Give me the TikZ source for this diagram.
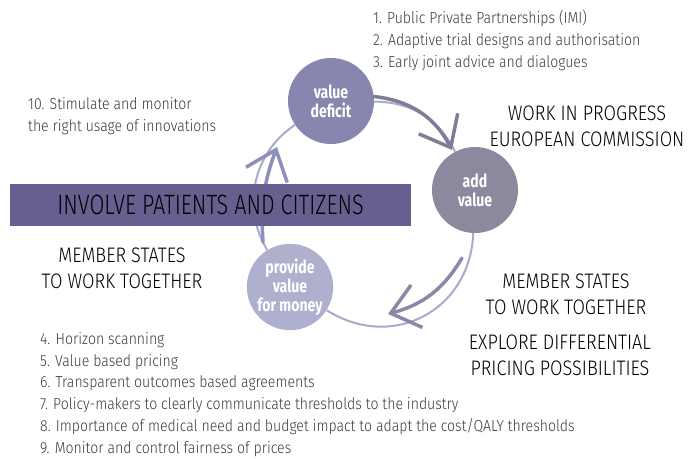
\documentclass[tikz,border=0pt]{standalone}
\usepackage{fontspec}
\setmainfont{Fira Sans}[UprightFont={* Light}, BoldFont={* Bold}, FakeStretch=0.88]
\newfontfamily\headfont{Fira Sans}[UprightFont={* Light}, FakeStretch=0.86]
\newfontfamily\bannerfont{Fira Sans}[UprightFont={* Light}, FakeStretch=0.77]
\newfontfamily\stagefont{Fira Sans}[UprightFont={* Bold}, FakeStretch=0.78]
\usetikzlibrary{arrows.meta}
\definecolor{deficitfill}{HTML}{8786AE}
\definecolor{addfill}{HTML}{8A899E}
\definecolor{moneyfill}{HTML}{AEB0CE}
\definecolor{bannerfill}{HTML}{65608F}
\definecolor{linkthin}{HTML}{A9AACB}
\definecolor{strokedark}{HTML}{7F7D97}
\definecolor{strokemid}{HTML}{8A8AA6}
\definecolor{strokelav}{HTML}{8E8FBA}
\definecolor{listgray}{HTML}{3A3A3A}
\begin{document}
\begin{tikzpicture}[x=1pt, y=1pt,
    stage/.style={circle, minimum size=86pt, inner sep=0pt, text=white, align=center,
      font=\stagefont\fontsize{18}{19}\selectfont},
    link/.style={draw=linkthin, line width=2pt},
    brush/.style={line width=3.5pt, line cap=round, -{Straight Barb[length=27pt, width=44pt]}},
    listtext/.style={anchor=north west, align=left, text=listgray, inner sep=0pt,
      font=\fontsize{16}{21.8}\selectfont},
    headtext/.style={align=center, text=black, inner sep=0pt,
      font=\headfont\fontsize{21}{26}\selectfont}]
    \useasboundingbox (0,0) rectangle (698,-458);

    % Stages of the cycle
    \node[stage, fill=deficitfill] (deficit) at (331,-101) {value\\deficit};
    \node[stage, fill=addfill] (addvalue) at (475,-190) {add\\value};
    \node[stage, fill=moneyfill] (money) at (290,-287) {provide\\value\\for money};

    % Cycle connectors
    \draw[link] (deficit) to[bend left=31] (addvalue);
    \draw[link] (addvalue) to[bend left=60, looseness=1.2] (money);
    \draw[link] (money) to[bend left=44] (deficit);
    \coordinate (tipA) at (452,-150);
    \coordinate (fromB) at (462,-258);
    \coordinate (tipB) at (388,-314);
    \coordinate (fromC) at (263,-242);
    \coordinate (tipC) at (277,-147);
    \draw[brush, strokedark] (deficit) to[bend left=28] (tipA);
    \draw[brush, strokemid] (fromB) to[bend left=22] (tipB);
    \draw[brush, strokelav] (fromC) to[bend left=12] (tipC);

    % Banner
    \node[fill=bannerfill, minimum width=401pt, minimum height=42pt, inner sep=0pt,
      font=\bannerfont\fontsize{28}{28}\selectfont] (banner) at (210.5,-205) {INVOLVE PATIENTS AND CITIZENS};

    % Texts
    \node[listtext] (early) at (373,-10) {1. Public Private Partnerships (IMI)\\
      2. Adaptive trial designs and authorisation\\3. Early joint advice and dialogues};
    \node[listtext] (usage) at (28,-97) {10. Stimulate and monitor\\the right usage of innovations};
    \node[headtext] (commission) at (587,-126) {WORK IN PROGRESS\\EUROPEAN COMMISSION};
    \node[headtext] (statesleft) at (122,-268) {MEMBER STATES\\TO WORK TOGETHER};
    \node[headtext] (statesright) at (566,-294) {MEMBER STATES\\TO WORK TOGETHER};
    \node[headtext] (pricing) at (560,-355) {EXPLORE DIFFERENTIAL\\PRICING POSSIBILITIES};
    \node[listtext] (pricelist) at (40,-332) {4. Horizon scanning\\5. Value based pricing\\
      6. Transparent outcomes based agreements\\
      7. Policy-makers to clearly communicate thresholds to the industry\\
      8. Importance of medical need and budget impact to adapt the cost/QALY thresholds\\
      9. Monitor and control fairness of prices};
  \end{tikzpicture}
\end{document}
